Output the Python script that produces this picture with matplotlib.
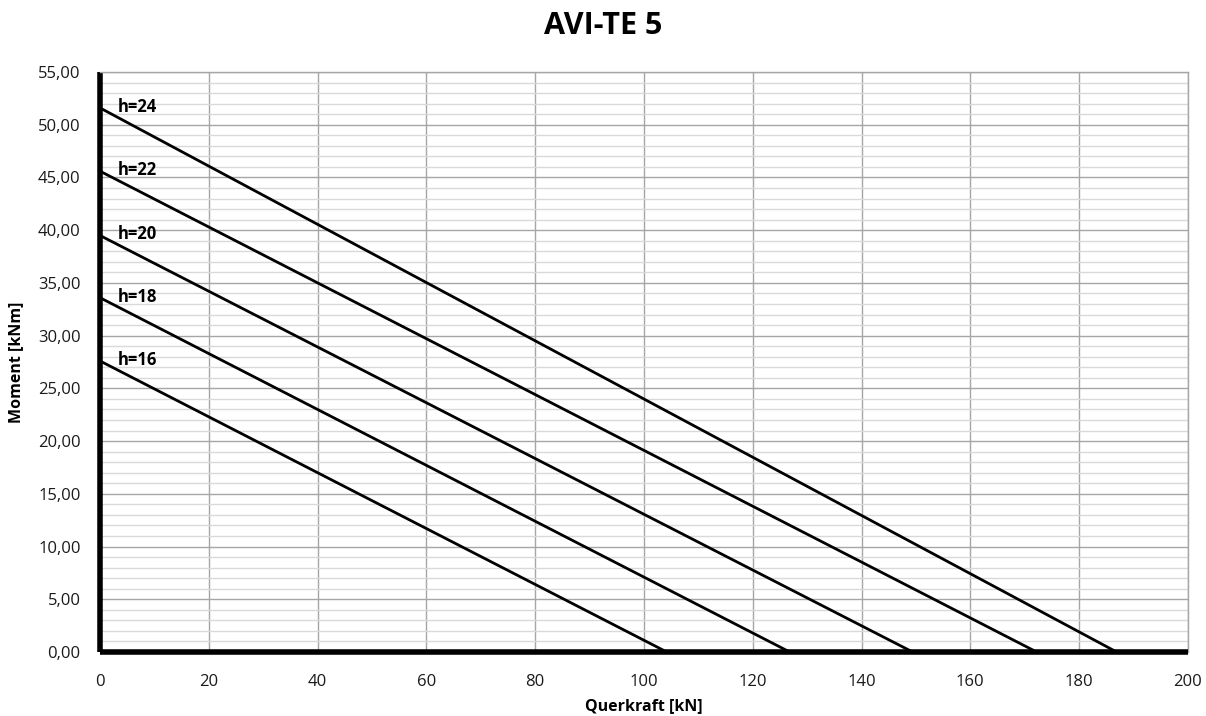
import matplotlib
matplotlib.use("Agg")
import matplotlib.pyplot as plt
from matplotlib.ticker import MultipleLocator, FuncFormatter

plt.rcParams['font.family'] = ['Open Sans', 'DejaVu Sans']

labels = ["h=16", "h=18", "h=20", "h=22", "h=24"]
moment_at_zero = [27.6, 33.6, 39.5, 45.6, 51.6]
querkraft_at_zero = [104.2, 126.8, 149.4, 172.2, 186.9]

fig = plt.figure(figsize=(12.06, 7.16), dpi=100)
ax = fig.add_axes([0.0829, 0.0894, 0.9021, 0.81])

for lab, m0, q0 in zip(labels, moment_at_zero, querkraft_at_zero):
    ax.plot([0, q0], [m0, 0], color='black', lw=2.0, solid_capstyle='butt', zorder=3)
    ax.text(3.2, m0 + 0.1, lab, fontsize=12, fontweight='bold', ha='left', va='center', zorder=4)

ax.set_xlim(0, 200)
ax.set_ylim(0, 55)
ax.xaxis.set_major_locator(MultipleLocator(20))
ax.yaxis.set_major_locator(MultipleLocator(5))
ax.yaxis.set_minor_locator(MultipleLocator(1))
ax.yaxis.set_major_formatter(FuncFormatter(lambda v, p: f"{v:.2f}".replace('.', ',')))

ax.grid(which='major', axis='both', color='#a6a6a6', lw=1.0, zorder=0)
ax.grid(which='minor', axis='y', color='#d9d9d9', lw=1.0, zorder=0)
ax.set_axisbelow(True)

for s in ['top', 'right']:
    ax.spines[s].set_color('#a6a6a6')
    ax.spines[s].set_linewidth(1.0)
for s in ['left', 'bottom']:
    ax.spines[s].set_color('black')
    ax.spines[s].set_linewidth(4)
ax.spines['left'].set_capstyle('butt')
ax.spines['bottom'].set_capstyle('butt')

ax.tick_params(which='both', length=0, labelsize=12, colors='#1a1a1a')
ax.tick_params(axis='x', pad=16)
ax.tick_params(axis='y', pad=14)

ax.set_xlabel("Querkraft [kN]", fontsize=11.5, fontweight='bold', labelpad=6)
ax.set_ylabel("Moment [kNm]", fontsize=11.5, fontweight='bold', labelpad=10)
fig.suptitle("AVI-TE 5", fontsize=22, fontweight='bold', y=0.985)

fig.savefig("out.png", dpi=100)
